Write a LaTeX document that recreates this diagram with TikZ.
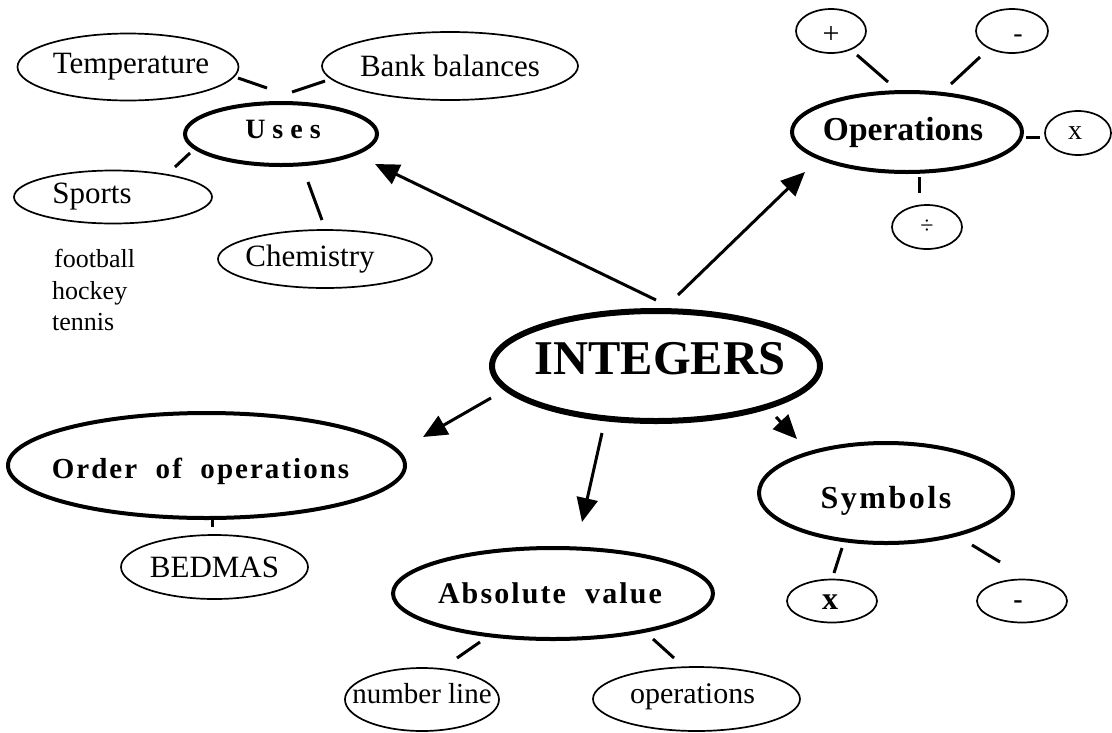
\documentclass[tikz,border=0pt]{standalone}
\usepackage{fontspec}
\setmainfont{Liberation Serif}
\usetikzlibrary{shapes.geometric}
\usetikzlibrary{calc}
\usetikzlibrary{arrows.meta}
\newcommand{\sz}[1]{\fontsize{#1}{#1}\selectfont}

\begin{document}
\begin{tikzpicture}[x=1pt,y=-1pt,>={Triangle[length=24pt,width=21pt]},
    sub/.style={ellipse,draw,line width=1.7pt,inner sep=0pt},
    topic/.style={ellipse,draw,line width=4pt,inner sep=0pt},
    link/.style={line width=3pt},
    every label/.style={font=\sz{31},inner sep=0pt}]
	\useasboundingbox (0,0) rectangle (1112,732);

	% main topic
	\node[ellipse,draw,line width=6pt,inner sep=0pt,minimum width=328pt,minimum height=110pt,
	  label={[font=\bfseries\sz{48.5},xshift=4pt,yshift=7pt]center:INTEGERS}] (int) at (656,366) {};

	% uses
	\node[topic,minimum width=192pt,minimum height=62pt,
	  label={[font={\bfseries\sz{28}\addfontfeature{LetterSpace=25}},xshift=2pt,yshift=5pt]center:Uses}] (uses) at (281,134) {};
	\node[sub,minimum width=221pt,minimum height=67pt,label={[xshift=3pt]center:Temperature}] (temp) at (128,67) {};
	\node[sub,minimum width=256pt,minimum height=68pt,label={center:Bank balances}] (bank) at (450,66) {};
	\node[sub,minimum width=198pt,minimum height=53pt,label={[xshift=-21pt]center:Sports}] (sports) at (113,197) {};
	\node[sub,minimum width=214pt,minimum height=58pt,label={[xshift=-15pt]center:Chemistry}] (chem) at (325,259) {};
	\node[align=left,anchor=north west,inner sep=0pt,font=\fontsize{26}{31.5}\selectfont] (games) at (52,249) {\hspace*{2pt}football\\hockey\\tennis};

	\draw[link] ($(temp)+(110,11)$) -- ($(uses)+(-14,-46)$);
	\draw[link] ($(uses)+(11,-42)$) -- ($(bank)+(-125,15)$);
	\draw[link] ($(sports)+(62,-30)$) -- ($(uses)+(-91,19)$);
	\draw[link] ($(uses)+(27,48)$) -- ($(chem)+(-3,-39)$);

	% operations
	\node[topic,minimum width=230pt,minimum height=80pt,
	  label={[font=\bfseries\sz{33.5},xshift=-4pt]center:Operations}] (ops) at (907,132) {};
	\node[sub,minimum width=70pt,minimum height=44pt,label={[font=\sz{30},yshift=-4pt]center:+}] (plus) at (831,31) {};
	\node[sub,minimum width=72pt,minimum height=44pt,label={[font=\sz{28},xshift=6pt,yshift=-8pt]center:-}] (minus) at (1012,31) {};
	\node[sub,minimum width=66pt,minimum height=44pt,label={[font=\sz{28},xshift=-3pt]center:x}] (times) at (1078,133) {};
	\node[sub,minimum width=70pt,minimum height=44pt,label={[font=\sz{24}]center:÷}] (div) at (927,227) {};

	\draw[link] ($(plus)+(26,24)$) -- ($(ops)+(-19,-50)$);
	\draw[link] ($(minus)+(-32,26)$) -- ($(ops)+(44,-48)$);
	\draw[link] ($(ops)+(119,5)$) -- ($(times)+(-38,4)$);
	\draw[link] ($(ops)+(12,45)$) -- ($(div)+(-8,-34)$);

	% order of operations
	\node[topic,minimum width=397pt,minimum height=105pt,
	  label={[font={\bfseries\sz{29}\addfontfeature{LetterSpace=7}},xshift=-6pt,yshift=-6pt]center:Order~~of~~operations}] (order) at (206.5,465.5) {};
	\node[sub,minimum width=187pt,minimum height=64pt,label={center:BEDMAS}] (bedmas) at (214.5,567) {};
	\draw[link] ($(order)+(5.5,54.5)$) -- ($(bedmas)+(-2.5,-40)$);

	% absolute value
	\node[topic,minimum width=320pt,minimum height=91pt,
	  label={[font={\bfseries\sz{30}\addfontfeature{LetterSpace=7}},xshift=-3pt]center:Absolute~~value}] (abs) at (553,593.5) {};
	\node[sub,minimum width=154pt,minimum height=63pt,label={[font=\sz{29},yshift=6pt]center:number line}] (numline) at (422,699.5) {};
	\node[sub,minimum width=207pt,minimum height=64pt,label={[font=\sz{30},xshift=-4pt,yshift=2pt]center:operations}] (oper) at (696.5,699) {};
	\draw[link] ($(abs)+(-73,48.5)$) -- ($(numline)+(35,-41.5)$);
	\draw[link] ($(abs)+(100,45.5)$) -- ($(oper)+(-22.5,-41)$);

	% symbols
	\node[topic,minimum width=254pt,minimum height=100pt,
	  label={[font={\bfseries\sz{32}\addfontfeature{LetterSpace=8}},yshift=-8pt]center:Symbols}] (sym) at (886,493) {};
	\node[sub,minimum width=90pt,minimum height=43pt,label={[font=\bfseries\sz{32},xshift=-2pt,yshift=-1pt]center:x}] (symx) at (832,601) {};
	\node[sub,minimum width=90pt,minimum height=43pt,label={[font=\bfseries\sz{28},xshift=-4pt,yshift=-4pt]center:-}] (symm) at (1022,601) {};
	\draw[link] ($(sym)+(-44,55)$) -- ($(symx)+(2,-28)$);
	\draw[link] ($(sym)+(86,52)$) -- ($(symm)+(-22,-39)$);

	% arrows out of the main topic
	\draw[->,link] ($(int)+(0,-66)$) -- ($(uses)+(94,30)$);
	\draw[->,link] ($(int)+(22,-71)$) -- ($(ops)+(-102,40)$);
	\draw[->,link] ($(int)+(-165,32)$) -- ($(order)+(216.5,-28.5)$);
	\draw[->,link] ($(int)+(-54,67)$) -- ($(abs)+(29,-71.5)$);
	\draw[->,link] ($(int)+(120,51)$) -- ($(sym)+(-89,-54)$);
\end{tikzpicture}
\end{document}
